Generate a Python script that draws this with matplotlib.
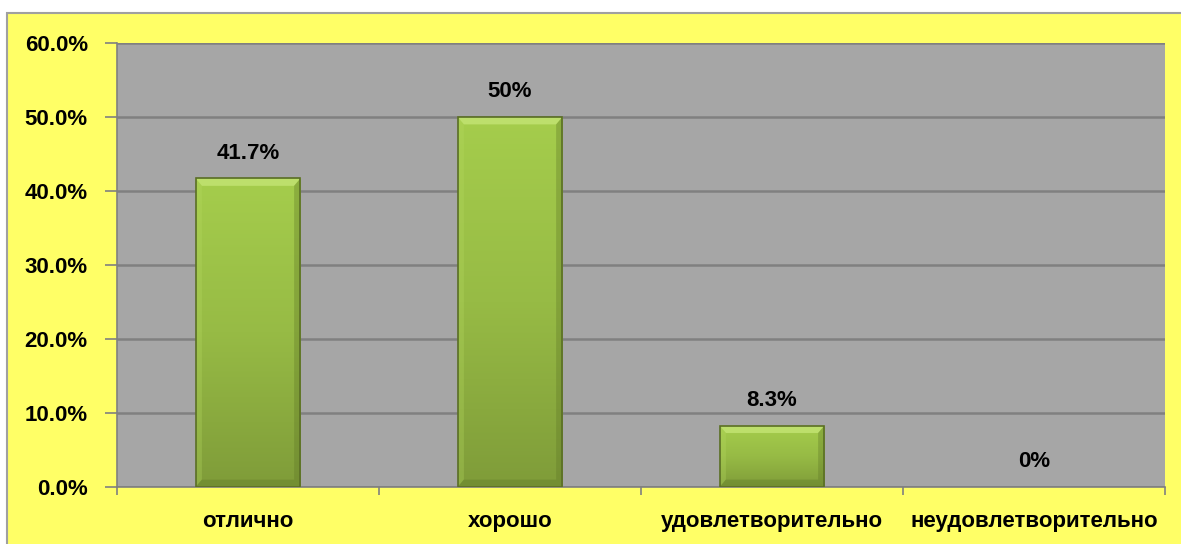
import numpy as np
import matplotlib.pyplot as plt
from matplotlib.patches import Rectangle
from matplotlib.ticker import FuncFormatter
from matplotlib.colors import LinearSegmentedColormap

categories = ["отлично", "хорошо", "удовлетворительно", "неудовлетворительно"]
values = [41.7, 50.0, 8.3, 0.0]
value_labels = ["41.7%", "50%", "8.3%", "0%"]
y_ticks = [0, 10, 20, 30, 40, 50, 60]

W, H = 1181, 544
plt.rcParams["font.family"] = ["Liberation Sans", "DejaVu Sans"]
fig = plt.figure(figsize=(W / 100, H / 100), dpi=100, facecolor="white")

# жёлтая рамка диаграммы
frame = Rectangle((7 / W, -0.05), 1.1, (H - 13) / H + 0.05, transform=fig.transFigure,
                  facecolor="#FFFF66", edgecolor="#A0A0A0", linewidth=1.5, zorder=-10)
fig.add_artist(frame)

ax = fig.add_axes([117 / W, (H - 487) / H, (1165 - 117) / W, (487 - 43) / H])
ax.set_facecolor("#A6A6A6")
ax.set_xlim(-0.5, len(categories) - 0.5)
ax.set_ylim(0, 60)

ax.set_yticks(y_ticks)
ax.yaxis.set_major_formatter(FuncFormatter(lambda v, p: f"{v:.1f}%"))
ax.grid(axis="y", color="#808080", linewidth=1.8, zorder=0)
ax.set_axisbelow(True)

x = np.arange(len(categories))
bars = ax.bar(x, values, width=0.4, color="#95B843", linewidth=0, zorder=3)

# градиент на столбцах
grad = np.linspace(0, 1, 256).reshape(-1, 1)
cmap = LinearSegmentedColormap.from_list("g", ["#7F9C39", "#97BB45", "#A5CD4C"])
for b in bars:
    if b.get_height() <= 0:
        continue
    x0, w, h = b.get_x(), b.get_width(), b.get_height()
    im = ax.imshow(grad, cmap=cmap, origin="lower", aspect="auto",
                   extent=(x0, x0 + w, 0, h), zorder=3.5)
    im.set_clip_path(b)
    # фаска: светлая сверху, тёмная справа и снизу
    bev_y = min(1.0, h * 0.15)
    bev_x = w * 0.06
    ax.fill([x0, x0 + w, x0 + w - bev_x, x0 + bev_x], [h, h, h - bev_y, h - bev_y],
            color="#C2E372", alpha=0.85, zorder=4, linewidth=0)
    ax.fill([x0 + w, x0 + w, x0 + w - bev_x, x0 + w - bev_x], [h, 0, bev_y, h - bev_y],
            color="#5F7727", alpha=0.35, zorder=4, linewidth=0)
    ax.fill([x0, x0, x0 + bev_x, x0 + bev_x], [h, 0, bev_y, h - bev_y],
            color="#B5D960", alpha=0.3, zorder=4, linewidth=0)
    ax.fill([x0, x0 + w, x0 + w - bev_x, x0 + bev_x], [0, 0, bev_y, bev_y],
            color="#5F7727", alpha=0.35, zorder=4, linewidth=0)
    ax.add_patch(Rectangle((x0, 0), w, h, fill=False, edgecolor="#5A6E25", linewidth=1.2, zorder=4.5))

for xi, v, lab in zip(x, values, value_labels):
    ax.text(xi, v + 2.0, lab, ha="center", va="bottom", fontsize=16, fontweight="bold", color="black")

ax.set_xticks(x)
ax.set_xticklabels(categories, fontsize=16, fontweight="bold")
ax.set_xticks(np.arange(len(categories) + 1) - 0.5, minor=True)
ax.tick_params(axis="x", which="major", length=0, pad=17)
ax.tick_params(axis="x", which="minor", length=6, color="#808080", width=1.2)
ax.tick_params(axis="y", length=9, color="#808080", width=1.2, labelsize=16, pad=12)
for t in ax.get_yticklabels():
    t.set_fontweight("bold")

for s in ["top", "right"]:
    ax.spines[s].set_visible(False)
ax.spines["left"].set_color("#808080")
ax.spines["bottom"].set_color("#808080")
ax.spines["left"].set_linewidth(1.2)
ax.spines["bottom"].set_linewidth(1.2)

fig.savefig("out.png", dpi=100)
